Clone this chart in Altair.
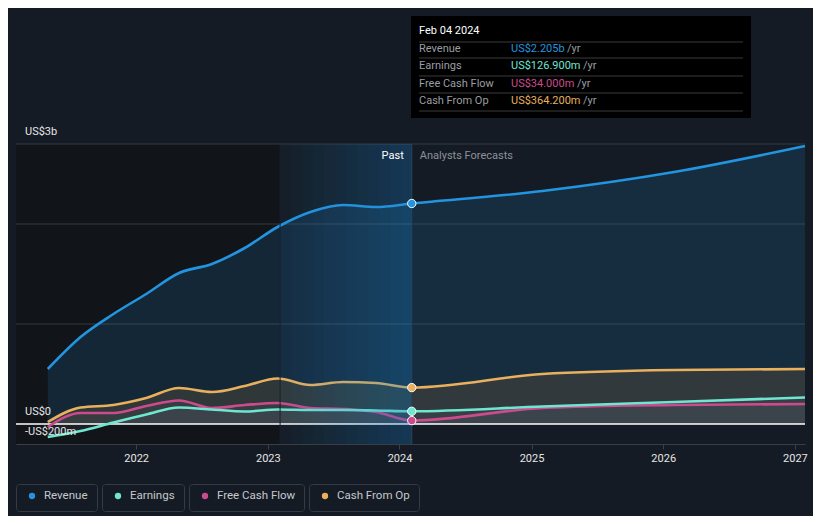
import altair as alt
import pandas as pd

# ---------------- data (US$ billions) ----------------
past_dates = ["2021-05-01", "2021-07-31", "2021-10-30", "2022-01-29", "2022-04-30",
              "2022-07-30", "2022-10-29", "2023-01-28", "2023-04-29", "2023-07-29",
              "2023-10-28", "2024-02-04"]
forecast_dates = ["2025-01-31", "2026-01-31", "2027-01-29"]

revenue = [0.55, 0.87, 1.10, 1.30, 1.51, 1.60, 1.76, 1.97, 2.12, 2.19, 2.17, 2.205,
           2.33, 2.52, 2.78]
earnings = [-0.13, -0.07, 0.015, 0.095, 0.165, 0.145, 0.125, 0.145, 0.14, 0.14, 0.135, 0.1269,
            0.175, 0.22, 0.265]
free_cash_flow = [-0.03, 0.11, 0.11, 0.18, 0.235, 0.16, 0.19, 0.21, 0.16, 0.15, 0.12, 0.034,
                  0.16, 0.19, 0.20]
cash_from_op = [0.02, 0.165, 0.19, 0.26, 0.36, 0.32, 0.38, 0.455, 0.39, 0.42, 0.41, 0.3642,
                0.50, 0.54, 0.55]

series_names = ["Revenue", "Earnings", "Free Cash Flow", "Cash From Op"]
series_colors = ["#2394df", "#6ee6d0", "#cc4b8e", "#e9b05e"]
series_values = [revenue, earnings, free_cash_flow, cash_from_op]

tooltip_title = "Feb 04 2024"
tooltip_values = ["US$2.205b", "US$126.900m", "US$34.000m", "US$364.200m"]

y_label_values = [2.8, 0, -0.2]
y_label_texts = ["US$3b", "US$0", "-US$200m"]
grid_values = [1, 2, 2.8]
year_ticks = ["2022-01-01", "2023-01-01", "2024-01-01", "2025-01-01", "2026-01-01", "2027-01-01"]
x_start, x_end = "2021-02-02", "2027-01-29"
band_start, band_end = "2023-02-04", "2024-02-04"


def ms(d):
    return int(pd.Timestamp(d, tz="UTC").value // 10**6)


all_dates = past_dates + forecast_dates
rows = []
for name, vals in zip(series_names, series_values):
    for d, v in zip(all_dates, vals):
        rows.append({"date": d, "series": name, "value": v})
df = pd.DataFrame(rows)

last = len(past_dates) - 1
dots_df = pd.DataFrame({"date": [past_dates[last]] * 4, "series": series_names,
                        "value": [v[last] for v in series_values]})

# ---------------- styling ----------------
BG = "#151b24"
FONT = "Roboto"
W, H = 789, 300

x_scale = alt.Scale(type="utc", domain=[ms(x_start), ms(x_end)])
x_axis = alt.Axis(values=[ms(d) for d in year_ticks],
                  format="%Y", formatType="time", labelColor="#e6e6e6", labelFont=FONT, labelFontSize=11,
                  tickColor="#3a3f47", tickSize=5, domainColor="#3a3f47", domainWidth=1,
                  grid=False, labelPadding=3, labelFlush=False, labelOverlap=False, title=None)
y_scale = alt.Scale(domain=[-0.2, 2.8], nice=False, zero=False)
color_scale = alt.Scale(domain=series_names, range=series_colors)


def X(field):
    return alt.X(field, type="temporal", scale=x_scale, axis=x_axis, title=None)


def Y(field):
    return alt.Y(field, type="quantitative", scale=y_scale, axis=None)


layers = []

# darker historic background
dark = pd.DataFrame({"start": [x_start], "end": [band_start], "top": [2.8], "bot": [-0.2]})
layers.append(alt.Chart(dark).mark_rect(fill="#111419").encode(
    x=X("start"), x2="end", y=Y("top"), y2="bot"))

# gridlines
grid_df = pd.DataFrame({"v": grid_values})
layers.append(alt.Chart(grid_df).mark_rule(color="#343a43", strokeWidth=1).encode(y=Y("v")))

# areas
area_styles = {
    "Revenue": ("#2394df", 0.15),
    "Cash From Op": ("#45423a", 0.6),
    "Free Cash Flow": ("#5a5c6e", 0.17),
    "Earnings": ("#5a5c6e", 0.17),
}
df_zero = df.assign(zero=0.0)
for name in ["Revenue", "Cash From Op", "Free Cash Flow", "Earnings"]:
    fill, op = area_styles[name]
    layers.append(alt.Chart(df_zero).transform_filter(alt.datum.series == name).mark_area(
        interpolate="monotone", fill=fill, opacity=op).encode(
        x=X("date"), y=Y("value"), y2="zero"))

# zero line
layers.append(alt.Chart(pd.DataFrame({"v": [0]})).mark_rule(color="#ffffff", strokeWidth=1.5).encode(y=Y("v")))

# lines
for name, col in zip(["Cash From Op", "Free Cash Flow", "Earnings", "Revenue"],
                     ["#e9b05e", "#cc4b8e", "#6ee6d0", "#2394df"]):
    layers.append(alt.Chart(df).transform_filter(alt.datum.series == name).mark_line(
        interpolate="monotone", strokeWidth=2.6, color=col).encode(
        x=X("date"), y=Y("value")))

# last-year highlight band: nested tint layers, all ending at the band end -> ramp
N = 12
starts = pd.date_range(band_start, band_end, periods=N + 1)[:-1]
strips = pd.DataFrame({
    "start": [d.strftime("%Y-%m-%dT%H:%M:%S") for d in starts],
    "end": [band_end] * N,
    "top": [2.8] * N, "bot": [-0.2] * N,
})
layers.append(alt.Chart(strips).mark_rect(fill="#1e88e5", opacity=0.028).encode(
    x=X("start"), x2="end", y=Y("top"), y2="bot"))

# vertical markers
layers.append(alt.Chart(pd.DataFrame({"date": [band_start]})).mark_rule(color="#18222e", strokeWidth=1).encode(
    x=X("date")))
layers.append(alt.Chart(pd.DataFrame({"date": [band_end]})).mark_rule(color="#284560", strokeWidth=1).encode(
    x=X("date")))

# dots
layers.append(alt.Chart(dots_df).mark_point(filled=True, size=70, stroke="#ffffff", strokeWidth=1,
                                             opacity=1).encode(
    x=X("date"), y=Y("value"),
    fill=alt.Fill("series:N", scale=color_scale, legend=None)))

# y labels
yl = pd.DataFrame({"v": y_label_values, "t": y_label_texts})
layers.append(alt.Chart(yl).mark_text(align="left", baseline="middle", dy=-12, font=FONT,
                                       fontSize=11, color="#e6e6e6").encode(
    x=alt.value(9), y=Y("v"), text="t:N"))

# Past / Analysts Forecasts
pf = pd.DataFrame({"date": [band_end]})
layers.append(alt.Chart(pf).mark_text(align="right", baseline="middle", dx=-8, font=FONT,
                                       fontSize=11, color="#ffffff", text="Past").encode(
    x=X("date"), y=alt.value(12)))
layers.append(alt.Chart(pf).mark_text(align="left", baseline="middle", dx=8, font=FONT,
                                       fontSize=11, color="#8c9199", text="Analysts Forecasts").encode(
    x=X("date"), y=alt.value(12)))

# tooltip box
one = pd.DataFrame({"k": [0]})
layers.append(alt.Chart(one).mark_rect(fill="#000000").encode(
    x=alt.value(395), x2=alt.value(735), y=alt.value(-128), y2=alt.value(-26)))
for yy in [-102, -86, -68, -51, -33]:
    layers.append(alt.Chart(one).mark_rule(color="#3a3a3a", strokeWidth=1).encode(
        x=alt.value(403), x2=alt.value(727), y=alt.value(yy)))
layers.append(alt.Chart(one).mark_text(align="left", baseline="middle", font=FONT, fontSize=11,
                                        color="#ffffff", text=tooltip_title).encode(
    x=alt.value(403), y=alt.value(-113)))
row_y = [-95, -78, -60, -43]
yr_x = [551, 567, 561, 567]
for name, val, col, ry, yx in zip(series_names, tooltip_values, series_colors, row_y, yr_x):
    layers.append(alt.Chart(one).mark_text(align="left", baseline="middle", font=FONT, fontSize=11,
                                            color="#9a9da2", text=name).encode(
        x=alt.value(403), y=alt.value(ry)))
    layers.append(alt.Chart(one).mark_text(align="left", baseline="middle", font=FONT, fontSize=11,
                                            color=col, text=val).encode(
        x=alt.value(495), y=alt.value(ry)))
    layers.append(alt.Chart(one).mark_text(align="left", baseline="middle", font=FONT, fontSize=11,
                                            color="#9a9da2", text="/yr").encode(
        x=alt.value(yx), y=alt.value(ry)))

# legend boxes
box_x = [(0, 81), (86, 168), (173, 288), (293, 403)]
dot_x = [16, 102, 189, 309]
txt_x = [28, 114, 201, 321]
for name, col, (bx1, bx2), dx_, tx in zip(series_names, series_colors, box_x, dot_x, txt_x):
    layers.append(alt.Chart(one).mark_rect(fill=BG, stroke="#353b45", strokeWidth=1,
                                            cornerRadius=3).encode(
        x=alt.value(bx1 + 0.5), x2=alt.value(bx2 + 0.5), y=alt.value(340.5), y2=alt.value(367.5)))
    layers.append(alt.Chart(one).mark_point(filled=True, size=40, color=col, opacity=1).encode(
        x=alt.value(dx_), y=alt.value(352)))
    layers.append(alt.Chart(one).mark_text(align="left", baseline="middle", font=FONT, fontSize=11.5,
                                            color="#c5c8cd", text=name).encode(
        x=alt.value(tx), y=alt.value(352)))

chart = alt.layer(*layers).properties(
    width=W, height=H,
    padding={"left": 8, "top": 136, "right": 8, "bottom": 72},
    autosize=alt.AutoSizeParams(type="none"),
    background=BG,
).configure_view(stroke=None)

chart.save("out.html", embed_options={"renderer": "svg", "actions": False})
